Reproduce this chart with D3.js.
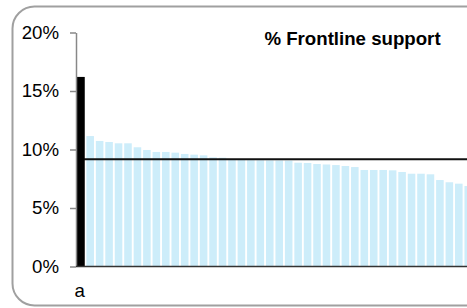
<!DOCTYPE html>
<html>
<head>
<meta charset="utf-8">
<script src="https://cdn.jsdelivr.net/npm/d3@7"></script>
<style>
  html, body { margin: 0; padding: 0; background: #fff; overflow: hidden; }
  svg { display: block; }
</style>
</head>
<body>
<script>
// chart data
var labels = ["a"];
var values = [16.2, 11.15, 10.73, 10.64, 10.53, 10.53, 10.19, 9.96, 9.79, 9.79, 9.73,
    9.62, 9.56, 9.50, 9.33, 9.30, 9.10, 9.10, 9.09, 9.08, 9.07, 9.06, 9.05,
    8.87, 8.85, 8.76, 8.72, 8.67, 8.59, 8.50, 8.25, 8.25, 8.25, 8.22, 8.08,
    7.93, 7.93, 7.88, 7.39, 7.20, 7.08, 6.88];
var average = [9.16];
var yTicks = [0, 5, 10, 15, 20];
var title = "% Frontline support";

var W = 467, H = 308;
var font = "'Liberation Sans', Arial, sans-serif";

var svg = d3.select("body")
    .append("svg")
    .attr("width", W)
    .attr("height", H);

// rounded frame, runs off the right edge like the original
svg.append("rect")
    .attr("x", 12.5)
    .attr("y", 6.5)
    .attr("width", 480)
    .attr("height", 299)
    .attr("rx", 22)
    .attr("fill", "#fff")
    .attr("stroke", "#a0a0a0")
    .attr("stroke-width", 2);

var x = d3.scaleBand()
    .domain(d3.range(values.length))
    .range([76, 76 + values.length * 9.452])
    .paddingInner(0.2)
    .paddingOuter(0.1);

var y = d3.scaleLinear()
    .domain([0, 20])
    .range([266.5, 32.5]);

var g = svg.append("g");

g.selectAll("rect.bar")
    .data(values)
    .enter()
    .append("rect")
    .attr("class", "bar")
    .attr("x", function (d, i) { return x(i); })
    .attr("y", function (d) { return y(d); })
    .attr("width", x.bandwidth())
    .attr("height", function (d) { return y(0) - y(d); })
    .attr("fill", function (d, i) { return i === 0 ? "#000000" : "#cdedfa"; });

// average line
g.selectAll("line.avg")
    .data(average)
    .enter()
    .append("line")
    .attr("class", "avg")
    .attr("x1", 76)
    .attr("x2", W + 10)
    .attr("y1", function (d) { return y(d); })
    .attr("y2", function (d) { return y(d); })
    .attr("stroke", "#111")
    .attr("stroke-width", 2);

// redraw black bar on top of the line
g.append("rect")
    .attr("x", x(0))
    .attr("y", y(values[0]))
    .attr("width", x.bandwidth())
    .attr("height", y(0) - y(values[0]))
    .attr("fill", "#000");

// y axis
var yAxis = g.append("g")
    .attr("transform", "translate(76,0)")
    .call(d3.axisLeft(y)
        .tickValues(yTicks)
        .tickFormat(function (d) { return d + "%"; })
        .tickSize(6)
        .tickSizeOuter(0)
        .tickPadding(11));
yAxis.select(".domain").attr("stroke", "#888").attr("stroke-width", 1.5);
yAxis.selectAll(".tick line").attr("stroke", "#888").attr("stroke-width", 1.5);
yAxis.selectAll(".tick text")
    .attr("fill", "#000")
    .style("font-family", font)
    .style("font-size", "18.67px");

// x baseline
g.append("line")
    .attr("x1", 76)
    .attr("x2", W + 10)
    .attr("y1", y(0))
    .attr("y2", y(0))
    .attr("stroke", "#333")
    .attr("stroke-width", 1.5);

// category label
g.selectAll("text.cat")
    .data(labels)
    .enter()
    .append("text")
    .attr("class", "cat")
    .attr("x", function (d, i) { return x(i) + x.bandwidth() / 2 - 1; })
    .attr("y", 296.5)
    .attr("text-anchor", "middle")
    .style("font-family", font)
    .style("font-size", "18.67px")
    .text(function (d) { return d; });

// title
svg.append("text")
    .attr("x", 352.5)
    .attr("y", 45)
    .attr("text-anchor", "middle")
    .style("font-family", font)
    .style("font-size", "18.67px")
    .style("font-weight", "bold")
    .text(title);
</script>
</body>
</html>
